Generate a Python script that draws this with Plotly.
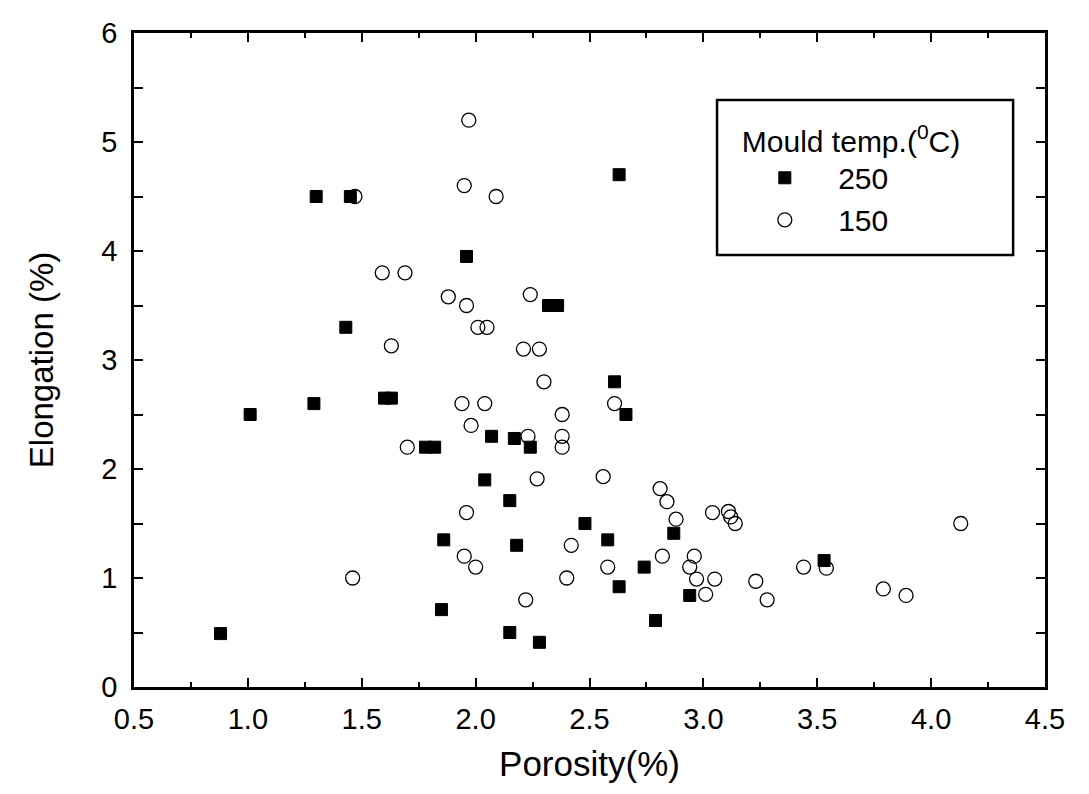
import plotly.graph_objects as go

# Mould temperature 250 °C (filled squares)
x250 = [1.30, 1.45, 2.63, 1.96, 2.32, 2.36, 1.43, 1.01, 1.29, 1.60, 1.63, 2.61, 2.66,
        2.07, 2.17, 2.24, 1.78, 1.82, 2.04, 2.15, 2.48, 1.86, 2.18, 2.58, 2.87, 2.74,
        2.63, 1.85, 0.88, 2.15, 2.28, 2.94, 2.79, 3.53]
y250 = [4.50, 4.50, 4.70, 3.95, 3.50, 3.50, 3.30, 2.50, 2.60, 2.65, 2.65, 2.80, 2.50,
        2.30, 2.28, 2.20, 2.20, 2.20, 1.90, 1.71, 1.50, 1.35, 1.30, 1.35, 1.41, 1.10,
        0.92, 0.71, 0.49, 0.50, 0.41, 0.84, 0.61, 1.16]

# Mould temperature 150 °C (open circles)
x150 = [1.47, 1.97, 1.95, 2.09, 1.59, 1.69, 1.88, 1.96, 2.24, 2.01, 2.05, 1.63, 2.21,
        2.28, 2.30, 1.94, 2.04, 2.38, 1.98, 2.23, 2.38, 2.38, 1.70, 2.27, 1.96, 2.42,
        1.95, 2.00, 1.46, 2.40, 2.22, 2.61, 2.56, 2.81, 2.84, 2.88, 3.04, 3.11, 3.12,
        3.14, 4.13, 2.58, 2.82, 2.96, 2.94, 2.97, 3.05, 3.01, 3.23, 3.28, 3.54, 3.44,
        3.79, 3.89]
y150 = [4.50, 5.20, 4.60, 4.50, 3.80, 3.80, 3.58, 3.50, 3.60, 3.30, 3.30, 3.13, 3.10,
        3.10, 2.80, 2.60, 2.60, 2.50, 2.40, 2.30, 2.30, 2.20, 2.20, 1.91, 1.60, 1.30,
        1.20, 1.10, 1.00, 1.00, 0.80, 2.60, 1.93, 1.82, 1.70, 1.54, 1.60, 1.61, 1.56,
        1.50, 1.50, 1.10, 1.20, 1.20, 1.10, 0.99, 0.99, 0.85, 0.97, 0.80, 1.09, 1.10,
        0.90, 0.84]

x_ticks = [0.5, 1.0, 1.5, 2.0, 2.5, 3.0, 3.5, 4.0, 4.5]
y_ticks = [0, 1, 2, 3, 4, 5, 6]

FONT = "Liberation Sans, Arial, sans-serif"
PAD = "\u00a0" * 4

fig = go.Figure()
fig.add_trace(go.Scatter(
    x=x250, y=y250, mode="markers", name=PAD + "250",
    marker=dict(symbol="square", size=12, color="black",
                line=dict(color="black", width=1))))
fig.add_trace(go.Scatter(
    x=x150, y=y150, mode="markers", name=PAD + "150",
    marker=dict(symbol="circle-open", size=14, color="black",
                line=dict(color="black", width=1.3))))

axis_common = dict(
    showline=True, linecolor="black", linewidth=2.5, mirror="allticks",
    ticks="inside", ticklen=9, tickwidth=2, tickcolor="black",
    showgrid=False, zeroline=False,
    tickfont=dict(family=FONT, size=29, color="black"),
)

fig.update_xaxes(
    range=[0.5, 4.5], tickvals=x_ticks, tickformat=".1f",
    minor=dict(ticks="inside", ticklen=5, tickwidth=1.5, tickcolor="black", dtick=0.25),
    title=dict(text="Porosity(%)", font=dict(family=FONT, size=35, color="black"), standoff=18),
    ticklabelstandoff=4,
    **axis_common)
fig.update_yaxes(
    range=[0, 6], tickvals=y_ticks,
    minor=dict(ticks="inside", ticklen=9, tickwidth=2, tickcolor="black", dtick=0.5),
    title=dict(text="Elongation (%)", font=dict(family=FONT, size=33, color="black"), standoff=38),
    ticklabelstandoff=8,
    **axis_common)

# legend frame
fig.add_shape(type="rect", xref="paper", yref="paper",
              x0=0.640, x1=0.965, y0=0.6606, y1=0.8976,
              line=dict(color="black", width=2.5), fillcolor="white", layer="below")

fig.update_layout(
    width=1089, height=794,
    margin=dict(l=134, r=44, t=33, b=107),
    paper_bgcolor="white", plot_bgcolor="white",
    showlegend=True,
    legend=dict(
        x=0.665, y=0.878, xanchor="left", yanchor="top",
        borderwidth=0, bgcolor="rgba(0,0,0,0)",
        title=dict(text="Mould temp.(<sup>0</sup>C)", side="top",
                   font=dict(family=FONT, size=30, color="black")),
        font=dict(family=FONT, size=30, color="black"),
        itemsizing="trace", tracegroupgap=0,
        indentation=25,
    ),
)

fig.write_html("out.html")
